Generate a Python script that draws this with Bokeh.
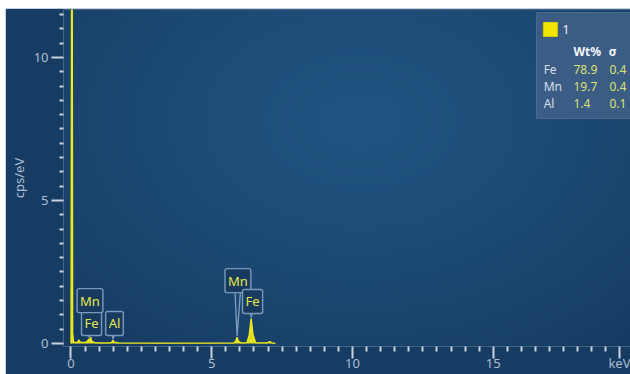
import numpy as np

from bokeh.plotting import figure
from bokeh.models import FixedTicker, ColumnDataSource, Range1d
from bokeh.core.properties import value
from bokeh.embed import file_html
from bokeh.resources import INLINE

# ---- EDS spectrum (energy in keV, intensity in cps/eV) ----
energy_kev = [0.000, 0.020, 0.045, 0.060, 0.090, 0.200, 0.260, 0.280, 0.310,
              0.450, 0.560, 0.640, 0.670, 0.700, 0.740, 0.820, 1.000, 1.400,
              1.460, 1.490, 1.530, 1.700, 3.000, 5.000, 5.780, 5.850, 5.900,
              5.950, 6.050, 6.250, 6.330, 6.400, 6.470, 6.560, 6.900, 7.000,
              7.060, 7.120, 7.200, 7.260]
counts_cps = [0.00, 13.0, 13.0, 0.40, 0.06, 0.03, 0.08, 0.13, 0.06,
              0.03, 0.06, 0.16, 0.10, 0.22, 0.08, 0.04, 0.02, 0.02,
              0.06, 0.12, 0.05, 0.02, 0.01, 0.01, 0.02, 0.08, 0.22,
              0.08, 0.02, 0.03, 0.30, 0.88, 0.30, 0.03, 0.02, 0.04,
              0.07, 0.03, 0.01, 0.00]

# ---- identified peaks ----
peak_elements = ["Fe", "Mn", "Al", "Mn", "Fe"]
peak_energy = [0.70, 0.64, 1.49, 5.90, 6.40]
peak_height = [0.22, 0.16, 0.12, 0.22, 0.88]

# ---- quantification table ----
quant_elements = ["Fe", "Mn", "Al"]
quant_wt = ["78.9", "19.7", "1.4"]
quant_sigma = ["0.4", "0.4", "0.1"]
spectrum_name = "1"

x_major = [0, 5, 10, 15]
y_major = [0, 5, 10]
x_unit_tick = 19.5

# ---- layout constants ----
X0, X1 = -0.266, 19.876
Y0, Y1 = -0.105, 11.678
FONT = "Noto Sans"
YELLOW = "#eeea1c"
TICK_COL = "#c9d2dc"
LABEL_COL = "#aebdd0"

p = figure(width=625, height=366, margin=(8, 0, 0, 5),
           x_range=Range1d(X0, X1), y_range=Range1d(Y0, Y1),
           min_border_left=58, min_border_right=0, min_border_top=1,
           min_border_bottom=28, output_backend="svg",
           toolbar_location=None)
p.border_fill_color = "#173c64"
p.background_fill_color = "#1c4673"
p.outline_line_color = None
p.grid.visible = False

# soft vignette behind the plot area
h, w = 337, 567
yy, xx = np.mgrid[0:h, 0:w]
page_y = 346 - yy - 0.5
page_x = 63 + xx + 0.5
t = np.clip(np.sqrt(((page_x - 360) / 430.0) ** 2 + ((page_y - 120) / 300.0) ** 2), 0, 1) ** 1.4
center = np.array([32, 83, 128])
edge = np.array([22, 58, 97])
img = np.empty((h, w), dtype=np.uint32)
view = img.view(dtype=np.uint8).reshape((h, w, 4))
for k in range(3):
    view[:, :, k] = (center[k] * (1 - t) + edge[k] * t).astype(np.uint8)
view[:, :, 3] = 255
p.image_rgba(image=[img], x=X0, y=Y0, dw=X1 - X0, dh=Y1 - Y0)

# spectrum
spec = ColumnDataSource(dict(e=energy_kev, c=counts_cps, z=[0] * len(energy_kev)))
p.varea(x="e", y1="z", y2="c", source=spec, fill_color=YELLOW, fill_alpha=0.95)
p.line(x="e", y="c", source=spec, line_color=YELLOW, line_width=1.3)

# peak callouts
label_x = [0.73, 0.675, 1.545, 5.93, 6.45]
label_y = [0.70, 1.50, 0.70, 2.20, 1.47]
dx = 0.12
tail_xs = [[lx - dx, pe, lx + dx] for lx, pe in zip(label_x, peak_energy)]
tail_ys = [[ly, ph + 0.04, ly] for ly, ph in zip(label_y, peak_height)]
p.multi_line(xs=tail_xs, ys=tail_ys, line_color="#7b9abb", line_width=1.4)
lab = ColumnDataSource(dict(x=label_x, y=label_y, t=peak_elements))
p.text(x="x", y="y", text="t", source=lab, text_color="#e8e84c",
       text_font=value(FONT), text_font_size="13px", text_align="center",
       text_baseline="middle", background_fill_color="#173a5e",
       background_fill_alpha=1.0, border_line_color="#7b9abb",
       border_line_width=1.4, padding=3, border_radius=2)

# quantification panel
p.quad(left=16.54, right=20.5, bottom=7.87, top=11.57,
       fill_color="#3d5e85", fill_alpha=0.97, line_color="#4d6d93", line_width=1)
p.scatter(x=[17.03], y=[10.98], marker="square", size=14,
          fill_color="#f2e600", line_color="#d8cc00")
p.text(x=[17.45], y=[10.98], text=[spectrum_name], text_color="#e8eef5",
       text_font=value(FONT), text_font_size="13px", text_baseline="middle")
p.text(x=[17.85, 19.10], y=[10.21, 10.21], text=["Wt%", "σ"], text_color="#f2f5f8",
       text_font=value(FONT), text_font_size="12px", text_font_style="bold",
       text_baseline="middle")
row_y = [9.58, 8.99, 8.39]
p.text(x=[16.79] * 3, y=row_y, text=quant_elements, text_color="#d6dde6",
       text_font=value(FONT), text_font_size="12px", text_baseline="middle")
p.text(x=[17.85] * 3, y=row_y, text=quant_wt, text_color="#dde173",
       text_font=value(FONT), text_font_size="12px", text_baseline="middle")
p.text(x=[19.13] * 3, y=row_y, text=quant_sigma, text_color="#dde173",
       text_font=value(FONT), text_font_size="12px", text_baseline="middle")

# axes
x_minor = [i * 0.5 for i in range(1, 40) if i % 10 != 0 and i != 39]
y_minor = [i * 0.5 for i in range(1, 24) if i % 10 != 0]
p.xaxis.ticker = FixedTicker(ticks=x_major + [x_unit_tick], minor_ticks=x_minor)
p.xaxis.major_label_overrides = {x_unit_tick: "keV"}
p.yaxis.ticker = FixedTicker(ticks=y_major, minor_ticks=y_minor)
for ax in (p.xaxis, p.yaxis):
    ax.axis_line_color = None
    ax.major_tick_line_color = TICK_COL
    ax.minor_tick_line_color = TICK_COL
    ax.major_tick_line_width = 2
    ax.minor_tick_line_width = 2
    ax.major_tick_in = 0
    ax.minor_tick_in = 0
    ax.major_tick_out = 12
    ax.major_label_text_color = LABEL_COL
    ax.major_label_text_font = FONT
    ax.major_label_text_font_size = "13px"
p.xaxis.minor_tick_out = 5
p.yaxis.minor_tick_out = 4
p.xaxis.major_label_standoff = -5
p.yaxis.major_label_standoff = 3

p.yaxis.axis_label = "cps/eV"
p.yaxis.axis_label_text_color = LABEL_COL
p.yaxis.axis_label_text_font = FONT
p.yaxis.axis_label_text_font_size = "13px"
p.yaxis.axis_label_text_font_style = "normal"
p.yaxis.axis_label_standoff = 3

open("out.html", "w").write(file_html(p, INLINE))
